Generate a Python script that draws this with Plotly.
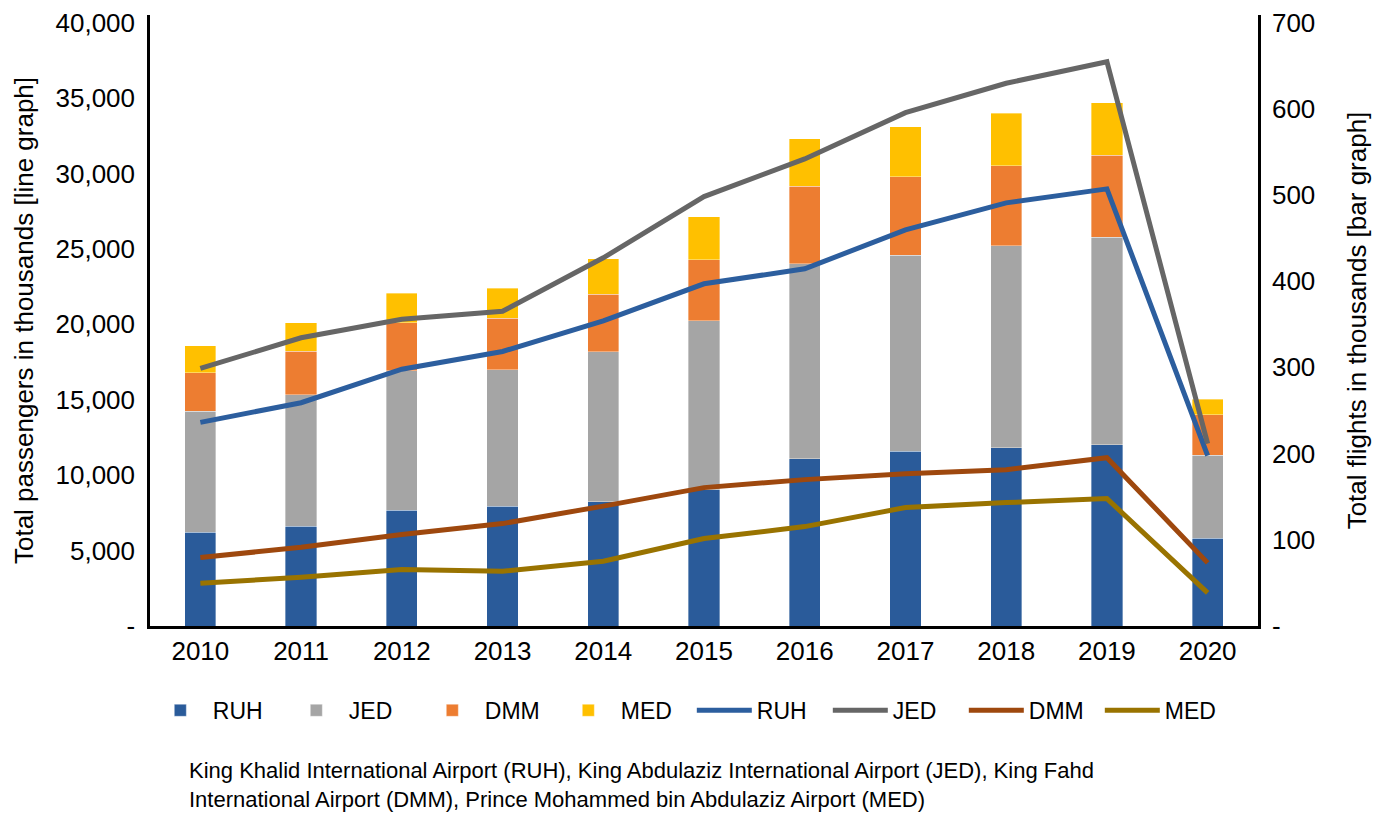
import plotly.graph_objects as go

years = ["2010", "2011", "2012", "2013", "2014", "2015", "2016", "2017", "2018", "2019", "2020"]

# Flights in thousands (bar graph, right axis) - stacked segments
flights_ruh = [109, 116, 134, 139, 144, 158, 194, 203, 207, 210, 102]
flights_jed = [140, 152, 162, 158, 174, 196, 226, 227, 234, 241, 96]
flights_dmm = [45, 51, 56, 60, 67, 71, 90, 91, 93, 95, 47]
flights_med = [31, 33, 34, 35, 41, 50, 55, 58, 61, 61, 18]

# Passengers in thousands (line graph, left axis)
pax_ruh = [13497, 14801, 17020, 18199, 20232, 22682, 23675, 26258, 28046, 28974, 11291]
pax_jed = [17073, 19106, 20331, 20861, 24404, 28464, 30960, 34026, 35974, 37404, 12086]
pax_dmm = [4536, 5219, 6060, 6788, 7947, 9172, 9702, 10099, 10364, 11159, 4185]
pax_med = [2834, 3232, 3742, 3629, 4291, 5795, 6589, 7848, 8179, 8444, 2199]

pax_tickvals = [0, 5000, 10000, 15000, 20000, 25000, 30000, 35000, 40000]
pax_ticktext = ["-", "5,000", "10,000", "15,000", "20,000", "25,000", "30,000", "35,000", "40,000"]
flt_tickvals = [0, 100, 200, 300, 400, 500, 600, 700]
flt_ticktext = ["-", "100", "200", "300", "400", "500", "600", "700"]

note = ("King Khalid International Airport (RUH), King Abdulaziz International Airport (JED), King Fahd<br>"
        "International Airport (DMM), Prince Mohammed bin Abdulaziz Airport (MED)")

FONT = "Liberation Sans, Arial, Helvetica, sans-serif"

bar_colors = ["#2A5B9A", "#A5A5A5", "#ED7D31", "#FFC000"]
line_colors = ["#2C5E9E", "#666666", "#9E480E", "#997300"]
names = ["RUH", "JED", "DMM", "MED"]

fig = go.Figure()
for name, vals, col in zip(names, [flights_ruh, flights_jed, flights_dmm, flights_med], bar_colors):
    fig.add_trace(go.Bar(x=years, y=vals, name=name,
                         marker=dict(color=col, line=dict(color="rgba(255,255,255,0.6)", width=0.6)),
                         yaxis="y"))
for name, vals, col in zip(names, [pax_ruh, pax_jed, pax_dmm, pax_med], line_colors):
    fig.add_trace(go.Scatter(x=years, y=vals, name=name, mode="lines", line=dict(color=col, width=5),
                             yaxis="y2"))

# page body has an 8px default margin, so the figure is 8px smaller than the window
fig.update_layout(
    width=1379, height=813,
    margin=dict(l=142, r=129, t=7, b=194.5, autoexpand=False),
    paper_bgcolor="white", plot_bgcolor="white",
    font=dict(family=FONT, size=26, color="black"),
    barmode="stack", bargap=0.69,
    showlegend=True,
    legend=dict(orientation="h", x=0.489, xanchor="center", y=-0.138, yanchor="middle",
                font=dict(size=23), entrywidth=66, itemwidth=55, traceorder="normal"),
    xaxis=dict(type="category", showline=True, linecolor="black", linewidth=2.5, ticks="",
               ticklabelstandoff=0, showgrid=False, automargin=False, tickfont=dict(size=26)),
    yaxis=dict(side="right", range=[0, 708.75], tickvals=flt_tickvals, ticktext=flt_ticktext,
               showline=True, linecolor="black", linewidth=2.5, ticks="", ticklabelstandoff=6,
               ticklabeloverflow="allow",
               showgrid=False, zeroline=False, automargin=False,
               title=dict(text="Total flights in thousands [bar graph]", font=dict(size=26), standoff=34)),
    yaxis2=dict(side="left", overlaying="y", range=[0, 40500], tickvals=pax_tickvals, ticktext=pax_ticktext,
                showline=True, linecolor="black", linewidth=2.5, ticks="", ticklabelstandoff=7,
                ticklabeloverflow="allow",
                showgrid=False, zeroline=False, automargin=False,
                title=dict(text="Total passengers in thousands [line graph]", font=dict(size=26), standoff=15)),
    annotations=[dict(text=note, xref="paper", yref="paper", x=0.0334, y=-0.212, xanchor="left", yanchor="top",
                      align="left", showarrow=False, font=dict(size=22, family=FONT))],
)

fig.write_html("out.html")
